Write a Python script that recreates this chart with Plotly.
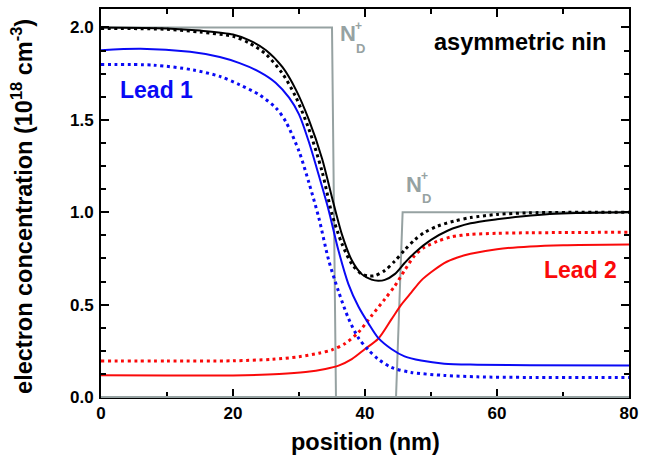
import plotly.graph_objects as go

# Position grid (nm) and electron concentrations (10^18 cm^-3)
lead1_x = [0, 6, 13.5, 18, 21, 24, 26.5, 28.5, 30, 31.5, 33, 34.5, 36, 37.5, 39, 40.5, 42, 44, 46, 48.5, 52, 57, 65, 80]
lead1_y = [1.877, 1.885, 1.868, 1.84, 1.807, 1.76, 1.70, 1.62, 1.53, 1.38, 1.20, 1.01, 0.79, 0.61, 0.49, 0.40, 0.32, 0.26, 0.22, 0.197, 0.18, 0.175, 0.172, 0.170]

lead1_dot_x = [0, 8, 14, 18, 21, 24, 26.5, 28, 30, 31.5, 33, 34.5, 36, 37.5, 39, 40.5, 42, 44, 47, 52, 57, 65, 80]
lead1_dot_y = [1.80, 1.796, 1.77, 1.735, 1.69, 1.635, 1.565, 1.49, 1.33, 1.16, 0.97, 0.74, 0.57, 0.425, 0.32, 0.255, 0.205, 0.16, 0.133, 0.117, 0.109, 0.106, 0.105]

lead2_x = [0, 10, 20, 27, 31, 34, 36, 38, 40, 42, 44, 45.5, 47, 48.5, 50, 52, 54, 56, 60, 65, 70, 80]
lead2_y = [0.118, 0.117, 0.117, 0.124, 0.135, 0.152, 0.17, 0.205, 0.26, 0.315, 0.42, 0.50, 0.565, 0.63, 0.675, 0.725, 0.755, 0.775, 0.80, 0.815, 0.822, 0.826]

lead2_dot_x = [0, 10, 20, 26, 30, 33, 35, 37, 39, 41, 43, 44.5, 46, 47.5, 49, 51, 53, 56, 60, 65, 70, 80]
lead2_dot_y = [0.195, 0.195, 0.196, 0.204, 0.218, 0.237, 0.255, 0.29, 0.35, 0.44, 0.53, 0.60, 0.685, 0.765, 0.81, 0.843, 0.866, 0.88, 0.886, 0.889, 0.89, 0.892]

total_x = [0, 10, 15, 20, 22.5, 25, 27.5, 29.5, 31.5, 33.5, 35, 36.5, 38, 39.5, 41, 42, 43, 44.5, 46, 47.5, 50, 52.5, 56, 60, 64, 68, 72, 80]
total_y = [2.0, 1.995, 1.983, 1.962, 1.93, 1.877, 1.785, 1.665, 1.50, 1.29, 1.08, 0.88, 0.74, 0.665, 0.635, 0.629, 0.634, 0.665, 0.725, 0.78, 0.85, 0.90, 0.94, 0.962, 0.978, 0.99, 0.996, 1.0]

total_dot_x = [0, 10, 15, 20, 22.5, 25, 27.5, 29.5, 31.5, 33.5, 35, 36.5, 38, 39.5, 40.5, 41.5, 43, 44.5, 46, 47.5, 49, 51, 53.5, 56, 60, 65, 80]
total_dot_y = [1.995, 1.99, 1.975, 1.952, 1.915, 1.855, 1.75, 1.625, 1.45, 1.22, 0.99, 0.83, 0.72, 0.665, 0.655, 0.657, 0.685, 0.735, 0.795, 0.85, 0.89, 0.925, 0.952, 0.971, 0.988, 0.997, 1.0]

# Ionized donor profile N_D^+
donor_x = [0, 35.0, 35.6, 44.7, 45.7, 80]
donor_y = [2.0, 2.0, 0.0, 0.0, 1.0, 1.0]

BLUE = "#0a0af5"
RED = "#fa0a0a"
GRAY = "#96a2a2"
FONT = "Liberation Sans, Arial, sans-serif"

fig = go.Figure()

fig.add_trace(go.Scatter(x=donor_x, y=donor_y, mode="lines",
                         line=dict(color=GRAY, width=2)))

def curve(x, y, color, dotted=False):
    line = dict(color=color, width=3 if dotted else 2, shape="spline", smoothing=0.8)
    if dotted:
        line["dash"] = "3px,3.6px"
    fig.add_trace(go.Scatter(x=x, y=y, mode="lines", line=line))

curve(lead2_dot_x, lead2_dot_y, RED, dotted=True)
curve(lead2_x, lead2_y, RED)
curve(lead1_dot_x, lead1_dot_y, BLUE, dotted=True)
curve(lead1_x, lead1_y, BLUE)
curve(total_dot_x, total_dot_y, "black", dotted=True)
curve(total_x, total_y, "black")

axis_common = dict(
    showline=True, linecolor="black", linewidth=2, mirror="allticks",
    ticks="inside", ticklen=8, tickwidth=2, tickcolor="black",
    showgrid=False, zeroline=False,
    tickfont=dict(family=FONT, size=17, color="black", weight="bold"),
)

fig.update_xaxes(range=[0, 80], tick0=0, dtick=20,
                 minor=dict(dtick=10, ticks="inside", ticklen=5, tickwidth=2, tickcolor="black"),
                 **axis_common)
fig.update_yaxes(range=[0, 2.1], tick0=0, dtick=0.5, tickformat=".1f",
                 ticklabelstandoff=2,
                 minor=dict(dtick=0.125, ticks="inside", ticklen=5, tickwidth=2, tickcolor="black"),
                 **axis_common)

def label(text, x, y, color, size, xanchor="center", yanchor="middle", xref="x", yref="y", angle=0):
    fig.add_annotation(text=text, x=x, y=y, xref=xref, yref=yref, showarrow=False,
                       xanchor=xanchor, yanchor=yanchor, textangle=angle,
                       font=dict(family=FONT, size=size, color=color, weight="bold"))

label("asymmetric nin", 63.5, 1.92, "black", 23.5)
label("Lead 1", 8.4, 1.66, BLUE, 23)
label("Lead 2", 72.6, 0.69, RED, 23)

# N_D^+ labels with stacked sub/superscript
for nx, ny in [(35.9, 1.965), (45.9, 1.150)]:
    label("N", nx, ny, GRAY, 22, xanchor="left")
    label("+", nx + 3.05, ny + 0.045, GRAY, 12)
    label("D", nx + 3.35, ny - 0.078, GRAY, 13)

label("position (nm)", 0.5, -0.115, "black", 23.5, xref="paper", yref="paper")
label("electron concentration (10<sup>18</sup> cm<sup>-3</sup>)", -0.150, 0.492, "black", 23.5,
      xref="paper", yref="paper", angle=-90)

# bottom frame edge drawn in the donor colour
fig.add_shape(type="line", xref="paper", yref="paper", x0=0, x1=1, y0=0, y1=0,
              line=dict(color=GRAY, width=2), layer="above")

fig.update_layout(
    width=649, height=465, showlegend=False,
    margin=dict(l=101, r=20, t=7, b=68),
    plot_bgcolor="white", paper_bgcolor="white",
    font=dict(family=FONT),
)

fig.write_html("out.html")
